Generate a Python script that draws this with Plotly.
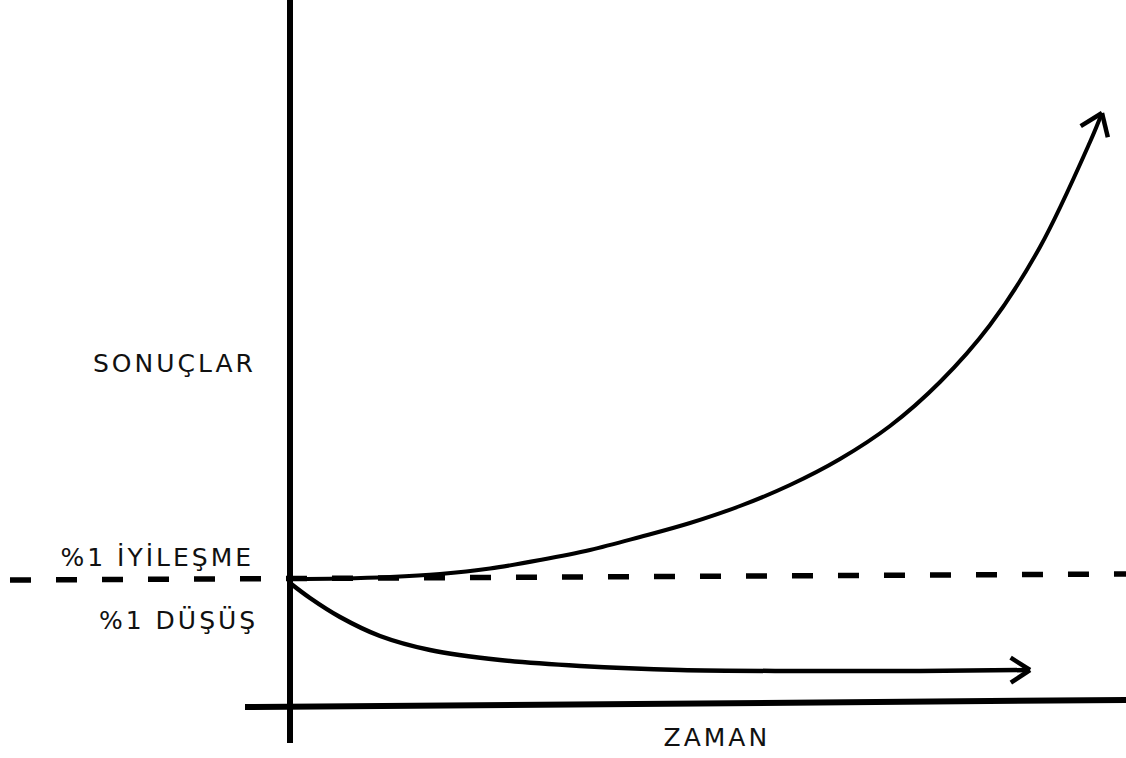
import numpy as np
import plotly.graph_objects as go

# ---- data (time units on x, result units on y) ----
growth_t = [0.0, 0.5, 1.0, 1.5, 2.0, 2.5, 3.0, 3.5, 4.0, 4.5, 5.0, 5.5, 6.0, 6.5, 7.0, 7.5, 8.0, 8.12]
growth_y = [1.28, 1.285, 1.30, 1.33, 1.385, 1.47, 1.57, 1.70, 1.84, 2.01, 2.22, 2.48, 2.81, 3.25, 3.82, 4.60, 5.65, 5.94]

decay_t = [0.0, 0.2, 0.5, 0.9, 1.4, 2.1, 2.9, 3.9, 5.1, 6.3, 7.4]
decay_y = [1.24, 1.09, 0.90, 0.71, 0.57, 0.47, 0.41, 0.37, 0.36, 0.36, 0.37]

baseline_t = [-2.8, 8.36]
baseline_y = [1.27, 1.33]

time_axis_t = [-0.45, 8.36]
time_axis_y = [0.0, 0.07]
result_axis_t = [0.0, 0.0]
result_axis_y = [-0.36, 7.07]

label_results = "SONUÇLAR"
label_time = "ZAMAN"
label_up = "%1 İYİLEŞME"
label_down = "%1 DÜŞÜŞ"

X_RANGE = [-2.9, 8.36]
Y_RANGE = [-0.51, 7.07]

INK = "#000000"


def arrow_head(ts, ys, length, angle_deg):
    """Two arms of an open arrowhead, computed from the last segment of a series."""
    tip = np.array([ts[-1], ys[-1]])
    prev = np.array([ts[-2], ys[-2]])
    d = tip - prev
    d = d / np.linalg.norm(d)
    back = -d
    out_t, out_y = [], []
    for sgn in (1, -1):
        a = np.radians(angle_deg) * sgn
        rot = np.array([[np.cos(a), -np.sin(a)], [np.sin(a), np.cos(a)]])
        arm = tip + length * rot.dot(back)
        out_t += [arm[0], tip[0], None]
        out_y += [arm[1], tip[1], None]
    return out_t, out_y


fig = go.Figure()

fig.add_trace(go.Scatter(x=baseline_t, y=baseline_y, mode="lines",
                         line=dict(color=INK, width=5.5, dash="21px,25px"),
                         hoverinfo="skip"))
fig.add_trace(go.Scatter(x=time_axis_t, y=time_axis_y, mode="lines",
                         line=dict(color=INK, width=6), hoverinfo="skip"))
fig.add_trace(go.Scatter(x=result_axis_t, y=result_axis_y, mode="lines",
                         line=dict(color=INK, width=6), hoverinfo="skip"))
fig.add_trace(go.Scatter(x=growth_t, y=growth_y, mode="lines",
                         line=dict(color=INK, width=4, shape="spline", smoothing=1.0),
                         hoverinfo="skip"))
fig.add_trace(go.Scatter(x=decay_t, y=decay_y, mode="lines",
                         line=dict(color=INK, width=4.5, shape="spline", smoothing=1.0),
                         hoverinfo="skip"))
ht, hy = arrow_head(growth_t, growth_y, 0.25, 36)
fig.add_trace(go.Scatter(x=ht, y=hy, mode="lines",
                         line=dict(color=INK, width=4.5), hoverinfo="skip"))
dt, dy = arrow_head(decay_t, decay_y, 0.23, 33)
fig.add_trace(go.Scatter(x=dt, y=dy, mode="lines",
                         line=dict(color=INK, width=4.5), hoverinfo="skip"))

font = dict(family="DejaVu Sans", size=25, color="#111111")
fig.add_annotation(x=-1.16, y=3.44, text=label_results, showarrow=False,
                   xanchor="center", yanchor="middle", font=font)
fig.add_annotation(x=-1.33, y=1.50, text=label_up, showarrow=False,
                   xanchor="center", yanchor="middle", font=font)
fig.add_annotation(x=-1.12, y=0.87, text=label_down, showarrow=False,
                   xanchor="center", yanchor="middle", font=font)
fig.add_annotation(x=4.27, y=-0.30, text=label_time, showarrow=False,
                   xanchor="center", yanchor="middle", font=font)

fig.update_layout(
    width=1126, height=758,
    margin=dict(l=0, r=0, t=0, b=0),
    paper_bgcolor="white", plot_bgcolor="white",
    showlegend=False,
    xaxis=dict(range=X_RANGE, visible=False, fixedrange=True),
    yaxis=dict(range=Y_RANGE, visible=False, fixedrange=True),
)

post = """
document.body.style.margin = '0';
var gd = document.getElementById('{plot_id}');
gd.querySelectorAll('.annotation-text').forEach(function(t){ t.style.letterSpacing = '3px'; });
"""
fig.write_html("out.html", post_script=post, config={"displayModeBar": False, "staticPlot": True})
